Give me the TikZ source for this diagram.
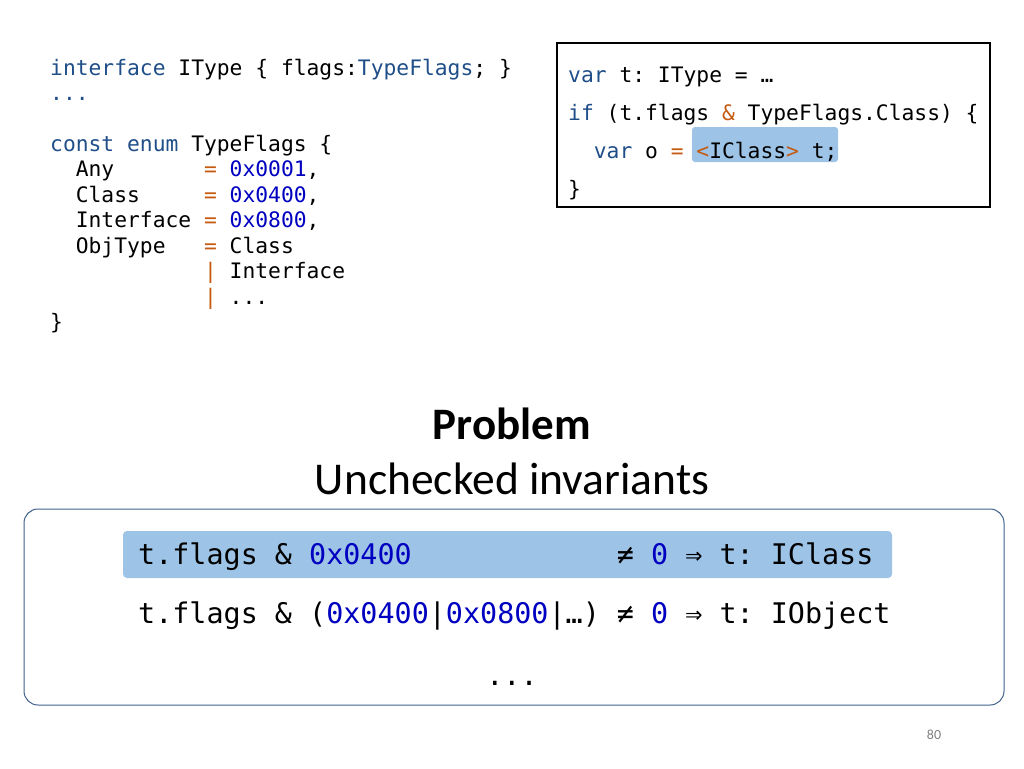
\documentclass[tikz,border=0pt]{standalone}
\usepackage{fontspec}
\setmainfont{Carlito}
\setmonofont{DejaVu Sans Mono}
\definecolor{kw}{HTML}{1F4E89}
\definecolor{num}{HTML}{0000C0}
\definecolor{op}{HTML}{C55A11}
\definecolor{hl}{HTML}{9DC3E6}
\definecolor{frame}{HTML}{3F5F8A}
\newcommand\K[1]{\textcolor{kw}{#1}}
\newcommand\N[1]{\textcolor{num}{#1}}
\newcommand\Op[1]{\textcolor{op}{#1}}
\begin{document}
\begin{tikzpicture}[x=1pt,y=-1pt,
  code/.style={anchor=base west,inner sep=0pt,font=\ttfamily\fontsize{21.3}{24}\selectfont},
  big/.style={anchor=base west,inner sep=0pt,font=\ttfamily\fontsize{28.4}{32}\selectfont}]
\useasboundingbox (0,0) rectangle (1024,768);
% left code
\node[code] (l1) at (50,75) {\K{interface} IType \{ flags:\K{TypeFlags}; \}};
\node[code] (l2) at (50,100.5) {\K{...}};
\node[code] (l3) at (50,151) {\K{const enum} TypeFlags \{};
\node[code] (l4) at (50,176.5) {\ \ Any\ \ \ \ \ \ \ \Op{=} \N{0x0001},};
\node[code] (l5) at (50,202) {\ \ Class\ \ \ \ \ \Op{=} \N{0x0400},};
\node[code] (l6) at (50,227.5) {\ \ Interface \Op{=} \N{0x0800},};
\node[code] (l7) at (50,253) {\ \ ObjType\ \ \ \Op{=} Class};
\node[code] (l8) at (50,278.5) {\ \ \ \ \ \ \ \ \ \ \ \ \Op{|} Interface};
\node[code] (l9) at (50,304) {\ \ \ \ \ \ \ \ \ \ \ \ \Op{|} ...};
\node[code] (l10) at (50,329.5) {\}};
% right box
\draw[line width=1.5pt] (557,43) rectangle (990,207);
\fill[hl,rounded corners=3pt] (692,127) rectangle (838,162);
\node[code] (r1) at (568,82) {\K{var} t: IType = …};
\node[code] (r2) at (568,120) {\K{if} (t.flags \Op{\&} TypeFlags.Class) \{};
\node[code] (r3) at (568,158) {\ \ \K{var} o \Op{=} \Op{<}IClass\Op{>} t;};
\node[code] (r4) at (568,196) {\}};
% title
\node[font=\bfseries\fontsize{45}{48}\selectfont,anchor=base] (t1) at (512,439) {Problem};
\node[font=\fontsize{45.5}{48}\selectfont,anchor=base] (t2) at (512,494) {Unchecked invariants};
% bottom box
\draw[frame,line width=1pt,rounded corners=14pt] (24,509) rectangle (1004,705);
\fill[hl,rounded corners=4pt] (123,531) rectangle (892,578);
\node[big] (b1) at (138,564) {t.flags \& \N{0x0400}\ \ \ \ \ \ \ \ \ \ \ \ ≠ \N{0} ⇒ t: IClass};
\node[big] (b2) at (138,623) {t.flags \& (\N{0x0400}|\N{0x0800}|…) ≠ \N{0} ⇒ t: IObject};
\node[big,anchor=base] (b3) at (512,685) {...};
\node[font=\fontsize{14}{16}\selectfont,text=gray,anchor=base] (pg) at (934,739) {80};
\end{tikzpicture}
\end{document}
